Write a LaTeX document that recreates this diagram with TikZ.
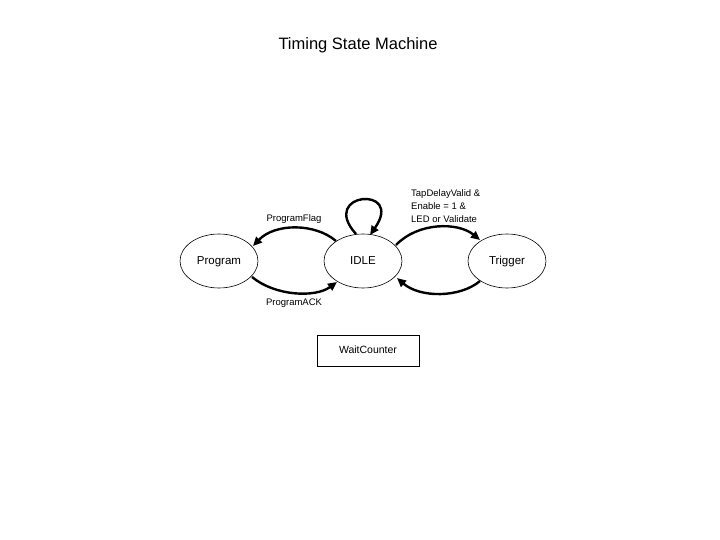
\documentclass[tikz,border=0pt]{standalone}
\usepackage{fontspec}
\setmainfont{Liberation Sans}
\usetikzlibrary{shapes.geometric,arrows.meta}
\begin{document}
\begin{tikzpicture}[x=1pt,y=-1pt,
  state/.style={draw,ellipse,line width=0.6pt,minimum width=78pt,minimum height=54pt,inner sep=0pt,text height=8pt,text depth=2pt,font=\fontsize{11.5}{13}\selectfont},
  box/.style={draw,line width=0.6pt,minimum width=102pt,minimum height=31pt,inner sep=0pt,text height=7.5pt,text depth=1.5pt,font=\fontsize{10.5}{12}\selectfont},
  lbl/.style={font=\fontsize{9.5}{13}\selectfont,inner sep=0pt},
  conn/.style={line width=2.4pt,-{Triangle[length=9pt,width=8pt]}}]
\useasboundingbox (0,0) rectangle (720,540);
\node[font=\fontsize{16.5}{18}\selectfont] (title) at (358,45) {Timing State Machine};
\node[state] (prog) at (219,261) {Program};
\node[state] (idle) at (363,261) {IDLE};
\node[state] (trig) at (507,261) {Trigger};
\node[box] (wait) at (368,350.5) {WaitCounter};
\node[lbl] (pflag) at (294,219) {ProgramFlag};
\node[lbl] (pack) at (294,303) {ProgramACK};
\node[lbl,anchor=west,align=left] (tap) at (411,206) {TapDelayValid \&\\Enable = 1 \&\\LED or Validate};
\coordinate (a1) at (336,241); \coordinate (a2) at (253,246);
\coordinate (b1) at (252,277); \coordinate (b2) at (337,282);
\coordinate (c1) at (356,234); \coordinate (c2) at (370,235);
\coordinate (d1) at (396,245); \coordinate (d2) at (480,240);
\coordinate (e1) at (480,281); \coordinate (e2) at (397,278);
\draw[conn] (a1) .. controls (315,223) and (275,223) .. (a2);
\draw[conn] (b1) .. controls (275,296) and (315,298) .. (b2);
\draw[conn] (c1) .. controls (318,192) and (405,185) .. (c2);
\draw[conn] (d1) .. controls (418,222) and (458,222) .. (d2);
\draw[conn] (e1) .. controls (460,298) and (420,298) .. (e2);
\end{tikzpicture}
\end{document}
